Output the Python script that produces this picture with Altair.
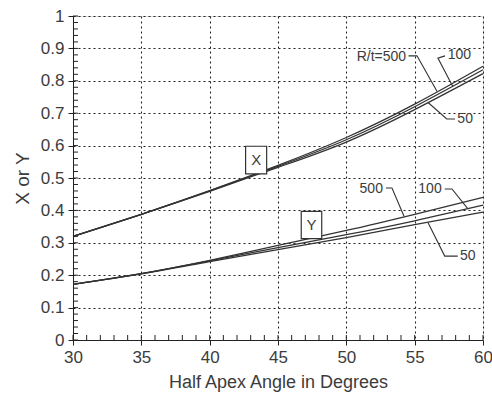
import altair as alt
import pandas as pd

# ---- data ----
angles = [30, 35, 40, 45, 50, 55, 60]
x_rt500 = [0.320, 0.388, 0.461, 0.539, 0.625, 0.728, 0.845]
x_rt100 = [0.320, 0.388, 0.460, 0.536, 0.618, 0.720, 0.834]
x_rt50 = [0.320, 0.388, 0.459, 0.533, 0.611, 0.711, 0.822]
y_rt500 = [0.172, 0.205, 0.246, 0.292, 0.338, 0.388, 0.440]
y_rt100 = [0.172, 0.205, 0.244, 0.285, 0.325, 0.368, 0.416]
y_rt50 = [0.172, 0.204, 0.242, 0.279, 0.316, 0.356, 0.395]

x_ticks = [30, 35, 40, 45, 50, 55, 60]
y_ticks = [0, 0.1, 0.2, 0.3, 0.4, 0.5, 0.6, 0.7, 0.8, 0.9, 1.0]
x_minor = [v for v in range(30, 61)]
y_minor = [round(i * 0.02, 2) for i in range(0, 51)]

# annotation labels (data coordinates)
label_text = ["R/t=500", "100", "50", "500", "100", "50"]
label_x = [54.45, 57.35, 58.05, 52.75, 57.05, 58.25]
label_y = [0.873, 0.880, 0.682, 0.466, 0.466, 0.259]
label_align = ["right", "left", "left", "right", "right", "left"]

# leader lines: (id, angle, value)
leader_id = [0, 0, 0, 1, 1, 1, 2, 2, 2, 3, 3, 3, 4, 4, 4, 5, 5, 5]
leader_x = [54.55, 55.17, 56.63, 57.22, 56.70, 57.80, 57.95, 57.35, 55.98,
            52.90, 53.34, 54.22, 57.20, 57.73, 58.90, 58.15, 57.20, 55.98]
leader_y = [0.877, 0.877, 0.768, 0.877, 0.870, 0.782, 0.682, 0.682, 0.733,
            0.469, 0.469, 0.382, 0.466, 0.466, 0.405, 0.259, 0.259, 0.362]

box_text = ["X", "Y"]
box_x1 = [42.63, 46.70]
box_x2 = [44.17, 48.20]
box_y1 = [0.513, 0.313]
box_y2 = [0.598, 0.397]

# ---- build tables ----
rows = []
for name, vals in [("X500", x_rt500), ("X100", x_rt100), ("X50", x_rt50),
                   ("Y500", y_rt500), ("Y100", y_rt100), ("Y50", y_rt50)]:
    for a, v in zip(angles, vals):
        rows.append({"angle": a, "value": v, "series": name})
curves = pd.DataFrame(rows)

labels = pd.DataFrame({"angle": label_x, "value": label_y, "text": label_text, "align": label_align})
leaders = pd.DataFrame({"id": leader_id, "angle": leader_x, "value": leader_y,
                        "order": list(range(len(leader_id)))})
boxes = pd.DataFrame({"x1": box_x1, "x2": box_x2, "y1": box_y1, "y2": box_y2, "text": box_text,
                      "xc": [(a + b) / 2 for a, b in zip(box_x1, box_x2)],
                      "yc": [(a + b) / 2 for a, b in zip(box_y1, box_y2)]})
xminor = pd.DataFrame({"angle": x_minor})
yminor = pd.DataFrame({"value": y_minor})

W, H = 410, 324
FONT = "Liberation Sans"
TXT = "#3c3c3c"

xscale = alt.Scale(domain=[30, 60], nice=False, zero=False)
yscale = alt.Scale(domain=[0, 1], nice=False)

xaxis = alt.Axis(values=x_ticks, title="Half Apex Angle in Degrees", grid=True,
                 gridDash=[2, 3], gridColor="#222", gridWidth=1.1, gridOpacity=1,
                 tickSize=5, tickColor="#222", domainColor="#222", labelFont=FONT,
                 labelFontSize=17, labelColor=TXT, titleFont=FONT, titleFontSize=18,
                 titleFontWeight="normal", titleColor=TXT, labelPadding=4, titlePadding=8,
                 labelFlush=False, labelOverlap=False)
yaxis = alt.Axis(values=y_ticks, title="X or Y", format=".1~f", grid=True,
                 gridDash=[2, 3], gridColor="#222", gridWidth=1.1, gridOpacity=1,
                 tickSize=5, tickColor="#222", domainColor="#222", labelFont=FONT,
                 labelFontSize=17, labelColor=TXT, titleFont=FONT, titleFontSize=19,
                 titleFontWeight="normal", titleColor=TXT, labelPadding=4, titlePadding=8,
                 labelOverlap=False)


def X(field):
    return alt.X(field, scale=xscale, axis=xaxis)


def Y(field):
    return alt.Y(field, scale=yscale, axis=yaxis)


lines = alt.Chart(curves).mark_line(color="#333", strokeWidth=1.3, interpolate="natural").encode(
    x=X("angle:Q"), y=Y("value:Q"), detail="series:N",
)

lead = alt.Chart(leaders).mark_line(color="#333", strokeWidth=1.1).encode(
    x=X("angle:Q"), y=Y("value:Q"), detail="id:N", order="order:Q",
)

txt_right = alt.Chart(labels[labels["align"] == "right"]).mark_text(
    align="right", baseline="middle", font=FONT, fontSize=14, color=TXT, dx=-1).encode(
    x=X("angle:Q"), y=Y("value:Q"), text="text:N")
txt_left = alt.Chart(labels[labels["align"] == "left"]).mark_text(
    align="left", baseline="middle", font=FONT, fontSize=14, color=TXT, dx=1).encode(
    x=X("angle:Q"), y=Y("value:Q"), text="text:N")

box_rect = alt.Chart(boxes).mark_rect(fill="white", stroke="#333", strokeWidth=1.2).encode(
    x=X("x1:Q"), x2="x2:Q", y=Y("y1:Q"), y2="y2:Q")
box_txt = alt.Chart(boxes).mark_text(font=FONT, fontSize=15, color=TXT, baseline="middle").encode(
    x=X("xc:Q"), y=Y("yc:Q"), text="text:N")

xmin_ticks = alt.Chart(xminor).mark_rule(color="#222", strokeWidth=1).encode(
    x=X("angle:Q"), y=alt.value(H), y2=alt.value(H - 5))
ymin_ticks = alt.Chart(yminor).mark_rule(color="#222", strokeWidth=1).encode(
    y=Y("value:Q"), x=alt.value(0), x2=alt.value(5))

chart = alt.layer(lines, lead, box_rect, box_txt, txt_right, txt_left, xmin_ticks, ymin_ticks).properties(
    width=W, height=H,
    autosize=alt.AutoSizeParams(type="none"),
    padding={"left": 73, "top": 16, "right": 9, "bottom": 59},
).configure_view(stroke="#222", strokeWidth=1.3).configure(background="white")

chart.save("out.html", embed_options={"renderer": "svg", "actions": False})
